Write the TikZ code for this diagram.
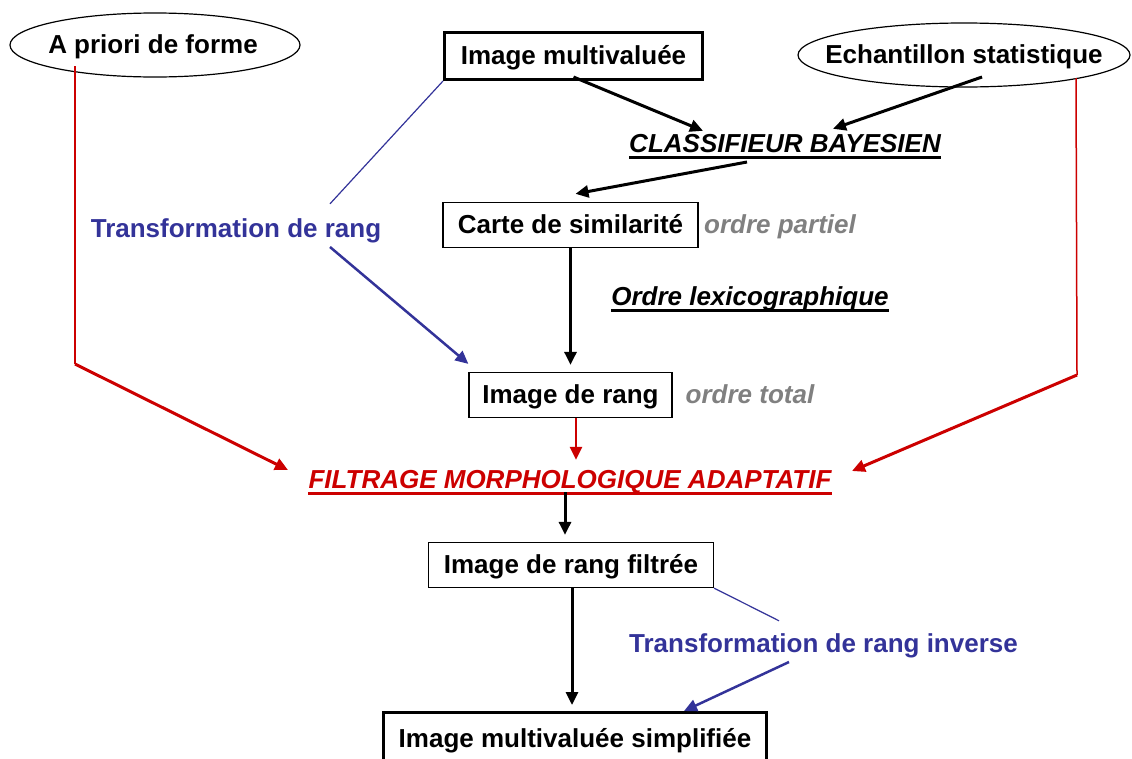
\documentclass[tikz,border=0pt]{standalone}
\usepackage{fontspec}
\setmainfont{Liberation Sans}
\usetikzlibrary{arrows.meta,shapes.geometric}
\definecolor{myblue}{RGB}{51,51,153}
\definecolor{myred}{RGB}{204,0,0}
\definecolor{mygray}{RGB}{128,128,128}
\begin{document}
\begin{tikzpicture}[x=1pt,y=-1pt,
  every node/.style={font=\fontsize{26pt}{30pt}\selectfont\bfseries},
  boxthin/.style={draw, line width=1.3pt, inner sep=0pt, text height=19pt, text depth=3pt},
  boxthick/.style={draw, line width=3pt, inner sep=0pt, text height=19pt, text depth=3pt},
  ovaltext/.style={inner sep=0pt, text height=19pt, text depth=3pt},
  ovalline/.style={line width=1.2pt},
  lbl/.style={inner sep=0pt, anchor=base, text height=19pt, text depth=0pt},
  ulbl/.style={lbl, font=\fontsize{26pt}{30pt}\selectfont\bfseries\itshape},
  glbl/.style={ulbl, text=mygray},
  blbl/.style={lbl, text=myblue},
  karrow/.style={line width=3pt, -{Triangle[length=13pt,width=12pt]}},
  barrow/.style={myblue, line width=2.5pt, -{Triangle[length=13pt,width=12pt]}},
  bthin/.style={myblue, line width=1.2pt},
  rthin/.style={myred, line width=1.5pt},
  rarrow/.style={myred, line width=3pt, -{Triangle[length=13pt,width=12pt]}},
  uline/.style={line width=3pt}
]
\useasboundingbox (0,0) rectangle (1132,758);
\clip (0,0) rectangle (1132,758);

% nodes
\node[ovaltext] (apriori) at (153,45) {A priori de forme};
\draw[ovalline] (155,45) ellipse (145 and 32);
\node[ovaltext] (echant) at (964,55) {Echantillon statistique};
\draw[ovalline] (964,55) ellipse (166 and 32);
\node[boxthick, minimum width=258pt, minimum height=47pt] (im) at (573.5,56) {Image multivaluée};
\node[ulbl] (classif) at (785,152) {CLASSIFIEUR BAYESIEN};
\node[boxthin, minimum width=255pt, minimum height=45pt] (carte) at (570.5,225) {Carte de similarité};
\node[glbl] (partiel) at (780,233) {ordre partiel};
\node[ulbl] (lexico) at (750,305) {Ordre lexicographique};
\node[boxthin, minimum width=203pt, minimum height=45pt] (rang) at (570.5,395) {Image de rang};
\node[glbl] (total) at (750,403) {ordre total};
\node[ulbl, text=myred] (filtrage) at (570,488) {FILTRAGE MORPHOLOGIQUE ADAPTATIF};
\node[boxthin, minimum width=285pt, minimum height=45pt] (filt) at (571,565) {Image de rang filtrée};
\node[boxthick, minimum width=383pt, minimum height=53pt] (simp) at (575,739) {Image multivaluée simplifiée};
\node[blbl] (tr) at (236,237) {Transformation de rang};
\node[blbl] (tri) at (823.5,652) {Transformation de rang inverse};

% underlines
\draw[uline] ([yshift=-5pt]classif.base west) -- ([yshift=-5pt]classif.base east);
\draw[uline] ([yshift=-5pt]lexico.base west) -- ([yshift=-5pt]lexico.base east);
\draw[uline, myred] ([yshift=-5pt]filtrage.base west) -- ([yshift=-5pt]filtrage.base east);

% red side connectors
\coordinate (cl) at (75,364);
\coordinate (cr) at (1077,375);
\draw[rthin] ([xshift=-78pt,yshift=-21pt]apriori.center) -- (cl);
\draw[rarrow] (cl) -- ([xshift=-282pt,yshift=18pt]filtrage.base);
\draw[rthin] ([xshift=112pt,yshift=-23pt]echant.center) -- (cr);
\draw[rarrow] (cr) -- ([xshift=282pt,yshift=17pt]filtrage.base);

% black arrows
\draw[karrow] ([yshift=4pt]im.south) -- ([xshift=-82pt,yshift=2pt]classif.north);
\draw[karrow] ([xshift=18pt,yshift=-22pt]echant.center) -- ([xshift=48pt,yshift=4pt]classif.north);
\draw[karrow] ([xshift=-38pt,yshift=-10pt]classif.base) -- ([xshift=5pt,yshift=8pt]carte.north);
\draw[karrow] (carte.south) -- ([yshift=7pt]rang.north);
\draw[rarrow, line width=2.5pt] ([xshift=5.5pt]rang.south) -- ([xshift=6pt,yshift=9pt]filtrage.north);
\draw[karrow] ([xshift=-5pt,yshift=-4pt]filtrage.base) -- ([xshift=-6pt,yshift=7pt]filt.north);
\draw[karrow] ([xshift=1pt]filt.south) -- ([xshift=-3pt,yshift=6pt]simp.north);

% blue connectors
\draw[bthin] (im.south west) -- ([xshift=94pt,yshift=14pt]tr.north);
\draw[barrow] ([xshift=94pt,yshift=-10pt]tr.base) -- ([yshift=8pt]rang.north west);
\draw[bthin] (filt.south east) -- ([xshift=-44.5pt,yshift=12pt]tri.north);
\draw[barrow] ([xshift=-34.5pt,yshift=-10pt]tri.base) -- ([xshift=109pt]simp.north);
\end{tikzpicture}
\end{document}
